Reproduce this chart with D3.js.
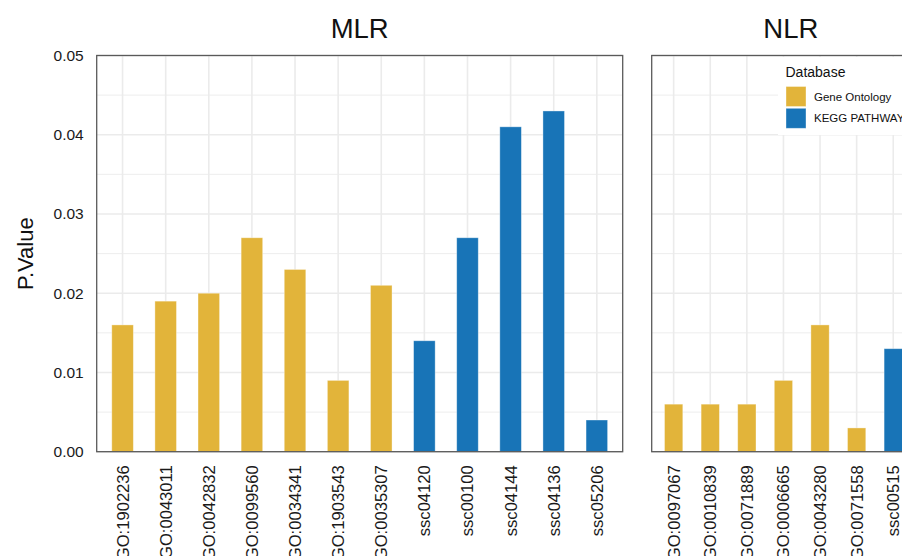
<!DOCTYPE html>
<html>
<head>
<meta charset="utf-8">
<script src="https://cdn.jsdelivr.net/npm/d3@7"></script>
<style>
  html, body { margin: 0; padding: 0; background: #fff; }
  svg { display: block; font-family: "Liberation Sans", Arial, Helvetica, sans-serif; }
</style>
</head>
<body>
<svg id="chart" width="902" height="556"></svg>
<script>
// Enriched terms per lymphocyte ratio model
const mlrTerms = ["GO:1902236", "GO:0043011", "GO:0042832", "GO:0099560", "GO:0034341",
  "GO:1903543", "GO:0035307", "ssc04120", "ssc00100", "ssc04144", "ssc04136", "ssc05206"];
const mlrPValues = [0.016, 0.019, 0.020, 0.027, 0.023, 0.009, 0.021, 0.014, 0.027, 0.041, 0.043, 0.004];
const mlrDatabase = ["Gene Ontology", "Gene Ontology", "Gene Ontology", "Gene Ontology", "Gene Ontology",
  "Gene Ontology", "Gene Ontology", "KEGG PATHWAY", "KEGG PATHWAY", "KEGG PATHWAY", "KEGG PATHWAY", "KEGG PATHWAY"];

const nlrTerms = ["GO:0097067", "GO:0010839", "GO:0071889", "GO:0006665", "GO:0043280", "GO:0071558", "ssc00515"];
const nlrPValues = [0.006, 0.006, 0.006, 0.009, 0.016, 0.003, 0.013];
const nlrDatabase = ["Gene Ontology", "Gene Ontology", "Gene Ontology", "Gene Ontology", "Gene Ontology",
  "Gene Ontology", "KEGG PATHWAY"];

const databases = ["Gene Ontology", "KEGG PATHWAY"];
const databaseColors = ["#E2B43A", "#1874B7"];
const yTicks = [0, 0.01, 0.02, 0.03, 0.04, 0.05];
const yMinorTicks = [0.005, 0.015, 0.025, 0.035, 0.045];

const svg = d3.select("#chart");
const color = d3.scaleOrdinal().domain(databases).range(databaseColors);

const panelTop = 55.5, panelBottom = 451.7;
const y = d3.scaleLinear().domain([0, 0.05]).range([panelBottom, panelTop]);

const panels = [
  { title: "MLR", terms: mlrTerms, values: mlrPValues, db: mlrDatabase,
    left: 96.7, right: 622.7, bandEnd: 622.7, yAxis: true },
  { title: "NLR", terms: nlrTerms, values: nlrPValues, db: nlrDatabase,
    left: 651.7, right: 930, bandEnd: 915.2, yAxis: false }
];

const gridColor = "#EBEBEB";
const borderColor = "#5a5a5a";

panels.forEach(p => {
  const x = d3.scaleBand().domain(p.terms).range([p.left, p.bandEnd])
    .paddingInner(0.5).paddingOuter(0.35);
  const g = svg.append("g");

  // minor and major horizontal grid
  g.selectAll("line.ymin").data(yMinorTicks).join("line")
    .attr("x1", p.left).attr("x2", p.right)
    .attr("y1", d => y(d)).attr("y2", d => y(d))
    .attr("stroke", gridColor).attr("stroke-width", 0.9);
  g.selectAll("line.ymaj").data(yTicks).join("line")
    .attr("x1", p.left).attr("x2", p.right)
    .attr("y1", d => y(d)).attr("y2", d => y(d))
    .attr("stroke", gridColor).attr("stroke-width", 1.6);
  // vertical grid at each category
  g.selectAll("line.xg").data(p.terms).join("line")
    .attr("x1", d => x(d) + x.bandwidth() / 2).attr("x2", d => x(d) + x.bandwidth() / 2)
    .attr("y1", panelTop).attr("y2", panelBottom)
    .attr("stroke", gridColor).attr("stroke-width", 1.6);

  // bars
  g.selectAll("rect.bar").data(p.terms).join("rect")
    .attr("x", d => x(d))
    .attr("width", x.bandwidth())
    .attr("y", (d, i) => y(p.values[i]))
    .attr("height", (d, i) => y(0) - y(p.values[i]))
    .attr("fill", (d, i) => color(p.db[i]))
    .attr("stroke", "rgba(255,255,255,0.45)")
    .attr("stroke-width", 0.8);

  // panel border
  g.append("rect")
    .attr("x", p.left).attr("y", panelTop)
    .attr("width", p.right - p.left).attr("height", panelBottom - panelTop)
    .attr("fill", "none").attr("stroke", borderColor).attr("stroke-width", 1.3);

  // facet title
  svg.append("text")
    .attr("x", (p.left + p.right) / 2).attr("y", 37.7)
    .attr("text-anchor", "middle")
    .attr("font-size", 27.5).attr("fill", "#111")
    .text(p.title);

  // x axis labels
  const xAxis = d3.axisBottom(x).tickSize(0).tickPadding(0);
  const xg = svg.append("g").attr("transform", `translate(0,${panelBottom})`).call(xAxis);
  xg.select(".domain").remove();
  xg.selectAll("text")
    .attr("font-size", 16.6).attr("fill", "#1a1a1a")
    .attr("font-family", "\"Liberation Sans\", Arial, sans-serif")
    .attr("text-anchor", "end")
    .attr("transform", "rotate(-90)")
    .attr("x", -13.5).attr("y", 0).attr("dy", "0.36em");

  if (p.yAxis) {
    const yAxis = d3.axisLeft(y).tickValues(yTicks).tickFormat(d3.format(".2f")).tickSize(0).tickPadding(0);
    const yg = svg.append("g").attr("transform", `translate(${p.left - 13},0)`).call(yAxis);
    yg.select(".domain").remove();
    yg.selectAll("text")
      .attr("font-size", 15.5).attr("fill", "#1a1a1a")
      .attr("font-family", "\"Liberation Sans\", Arial, sans-serif");
  }
});

// y axis title
svg.append("text")
  .attr("transform", `translate(33,${(panelTop + panelBottom) / 2}) rotate(-90)`)
  .attr("text-anchor", "middle")
  .attr("font-size", 22).attr("fill", "#111")
  .text("P.Value");

// legend inside the NLR panel
const legend = svg.append("g");
legend.append("rect")
  .attr("x", 778).attr("y", 57).attr("width", 140).attr("height", 78)
  .attr("fill", "#fff");
legend.append("text")
  .attr("x", 785.5).attr("y", 76.5)
  .attr("font-size", 14).attr("fill", "#111")
  .text("Database");
databases.forEach((d, i) => {
  legend.append("rect")
    .attr("x", 786).attr("y", 86.5 + i * 21.8)
    .attr("width", 20).attr("height", 20)
    .attr("fill", color(d))
    .attr("stroke", "rgba(255,255,255,0.45)").attr("stroke-width", 0.8);
  legend.append("text")
    .attr("x", 814).attr("y", 96.5 + i * 21.8).attr("dy", "0.35em")
    .attr("font-size", 11.5).attr("fill", "#111")
    .text(d);
});
</script>
</body>
</html>
